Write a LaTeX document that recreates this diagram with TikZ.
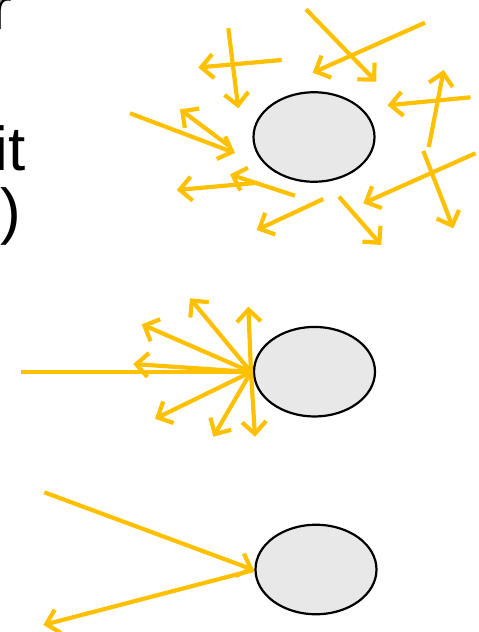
\documentclass[tikz,border=0pt]{standalone}
\usepackage{fontspec}
\setmainfont{Liberation Sans}
\usetikzlibrary{arrows.meta,shapes.geometric}
\definecolor{ray}{HTML}{FFC000}
\definecolor{ballfill}{HTML}{E8E8E8}
\tikzset{
  ball/.style={ellipse,draw=black,line width=2.2pt,fill=ballfill,minimum width=121pt,minimum height=89.5pt,inner sep=0pt},
  rayarrow/.style={draw=ray,line width=4.2pt,-{Straight Barb[length=12pt,width=24pt]}},
  rayline/.style={draw=ray,line width=4.2pt},
  cuttext/.style={anchor=base east,inner sep=0pt,font=\fontsize{62}{70}\selectfont}
}
\begin{document}
\begin{tikzpicture}[x=1pt,y=-1pt]
\useasboundingbox (0,0) rectangle (479,632);
\clip (0,0) rectangle (479,632);
% cut-off text at the left edge
\node[cuttext] (t1) at (12,29) {r};
\node[cuttext] (t2) at (26,170) {it};
\node[cuttext] (t3) at (21,232) {)};
% balls
\node[ball] (e1) at (314,137) {};
\node[ball] (e2) at (314.5,371.7) {};
\node[ball] (e3) at (316,569.5) {};
% top: random rays
\foreach \i/\sx/\sy/\ex/\ey in {
  1/228.3/28.3/238.3/108.3,
  2/281.7/60/198.3/67.5,
  3/306/9.3/376.3/81.7,
  4/425/22.7/312.7/72.7,
  5/470.5/97.3/387.5/105.3,
  6/428.8/147/443.7/70,
  7/475.5/153.3/363.3/203.3,
  8/423.3/151/453.3/228.3,
  9/339/196.7/381.3/245,
  10/323.3/199/256.7/230,
  11/295/195.7/230/174.5,
  12/258.3/182.7/176.7/190,
  13/130/113.3/235/153,
  14/230/146.7/180/109.3}{
  \coordinate (a\i s) at (\sx,\sy);
  \coordinate (a\i e) at (\ex,\ey);
  \draw[rayarrow] (a\i s) -- (a\i e);
}
% middle: diffuse reflection
\coordinate (h2) at (251,372);
\coordinate (in2) at (20.7,372);
\draw[rayline] (in2) -- (h2);
\foreach \i/\ex/\ey in {
  1/133.3/364,
  2/141.7/324.3,
  3/190/298.3,
  4/248.3/306.7,
  5/155/418.8,
  6/213.3/436.7,
  7/255/436.7}{
  \coordinate (m\i) at (\ex,\ey);
  \draw[rayarrow] (h2) -- (m\i);
}
% bottom: specular reflection
\coordinate (h3) at (253.8,570);
\coordinate (in3) at (44.3,492.3);
\coordinate (out3) at (43.3,625);
\draw[rayarrow] (in3) -- (h3);
\draw[rayarrow] (h3) -- (out3);
\end{tikzpicture}
\end{document}
